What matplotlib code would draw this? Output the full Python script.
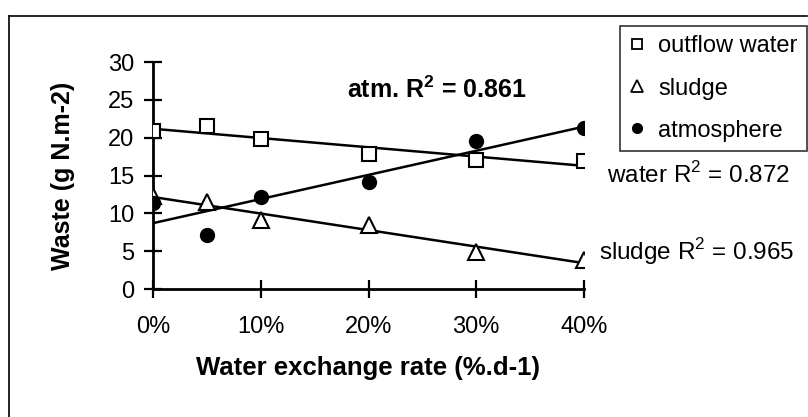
import numpy as np
import matplotlib.pyplot as plt
from matplotlib.lines import Line2D

plt.rcParams['font.family'] = ['Liberation Sans', 'DejaVu Sans']
plt.rcParams['mathtext.fontset'] = 'custom'
plt.rcParams['mathtext.rm'] = 'Liberation Sans'
plt.rcParams['mathtext.bf'] = 'Liberation Sans:bold'

# water exchange rate (%/day) and N waste (g N/m2)
rate = [0, 5, 10, 20, 30, 40]
outflow_water = [20.9, 21.6, 19.8, 17.9, 17.1, 16.9]
sludge = [12.3, 11.5, 9.1, 8.4, 4.9, 3.8]
atmosphere = [11.4, 7.1, 12.2, 14.2, 19.5, 21.3]
xticks = [0, 10, 20, 30, 40]
yticks = [0, 5, 10, 15, 20, 25, 30]

fig = plt.figure(figsize=(8.08, 4.17), dpi=100)
ax = fig.add_axes([153 / 808, 1 - 289 / 417, (584 - 153) / 808, (289 - 62) / 417])

# outer frame (top and left edges)
fig.add_artist(Line2D([9 / 808, 807 / 808], [1 - 16 / 417, 1 - 16 / 417], color='black', lw=1.2))
fig.add_artist(Line2D([9 / 808, 9 / 808], [0, 1 - 16 / 417], color='black', lw=1.2))

xs = np.array([0, 40])
for vals in (outflow_water, sludge, atmosphere):
    k, b = np.polyfit(rate, vals, 1)
    ax.plot(xs, k * xs + b, color='black', lw=1.8, zorder=2)

ax.plot(rate, outflow_water, ls='none', marker='s', ms=10, mfc='white', mec='black', mew=1.5, zorder=3)
ax.plot(rate, sludge, ls='none', marker='^', ms=11, mfc='white', mec='black', mew=1.5, zorder=3)
ax.plot(rate, atmosphere, ls='none', marker='o', ms=10, mfc='black', mec='black', zorder=4)

ax.set_xlim(0, 40)
ax.set_ylim(0, 30)
ax.set_xticks(xticks)
ax.set_xticklabels([f'{t}%' for t in xticks])
ax.set_yticks(yticks)
for s in ('top', 'right'):
    ax.spines[s].set_visible(False)
for s in ('left', 'bottom'):
    ax.spines[s].set_linewidth(2)
ax.tick_params(direction='inout', length=13, width=1.6, labelsize=17)
ax.tick_params(axis='x', pad=13)
ax.tick_params(axis='y', pad=7)

ax.set_xlabel('Water exchange rate (%.d-1)', fontsize=18.5, fontweight='bold', labelpad=13)
ax.set_ylabel('Waste (g N.m-2)', fontsize=18, fontweight='bold', labelpad=24)

ax.text(18.0, 26.3, 'atm. R$^\\mathbf{2}$ = 0.861', fontsize=18, fontweight='bold', va='center', clip_on=False)
ax.text(42.1, 15.1, 'water R$^2$ = 0.872', fontsize=17.5, va='center', clip_on=False)
ax.text(41.4, 4.9, 'sludge R$^2$ = 0.965', fontsize=17.5, va='center', clip_on=False)

handles = [
    Line2D([], [], ls='none', marker='s', ms=7, mfc='white', mec='black', mew=1.3),
    Line2D([], [], ls='none', marker='^', ms=8, mfc='white', mec='black', mew=1.3),
    Line2D([], [], ls='none', marker='o', ms=7, mfc='black', mec='black'),
]
leg = fig.legend(handles, ['outflow water', 'sludge', 'atmosphere'], loc='upper right',
                 bbox_to_anchor=(807 / 808, 1 - 26 / 417), fontsize=17, frameon=True, fancybox=False,
                 edgecolor='black', handlelength=0.6, handletextpad=0.6, labelspacing=0.85,
                 borderpad=0.4, borderaxespad=0)
leg.get_frame().set_linewidth(1.2)

fig.savefig('out.png', dpi=100)
